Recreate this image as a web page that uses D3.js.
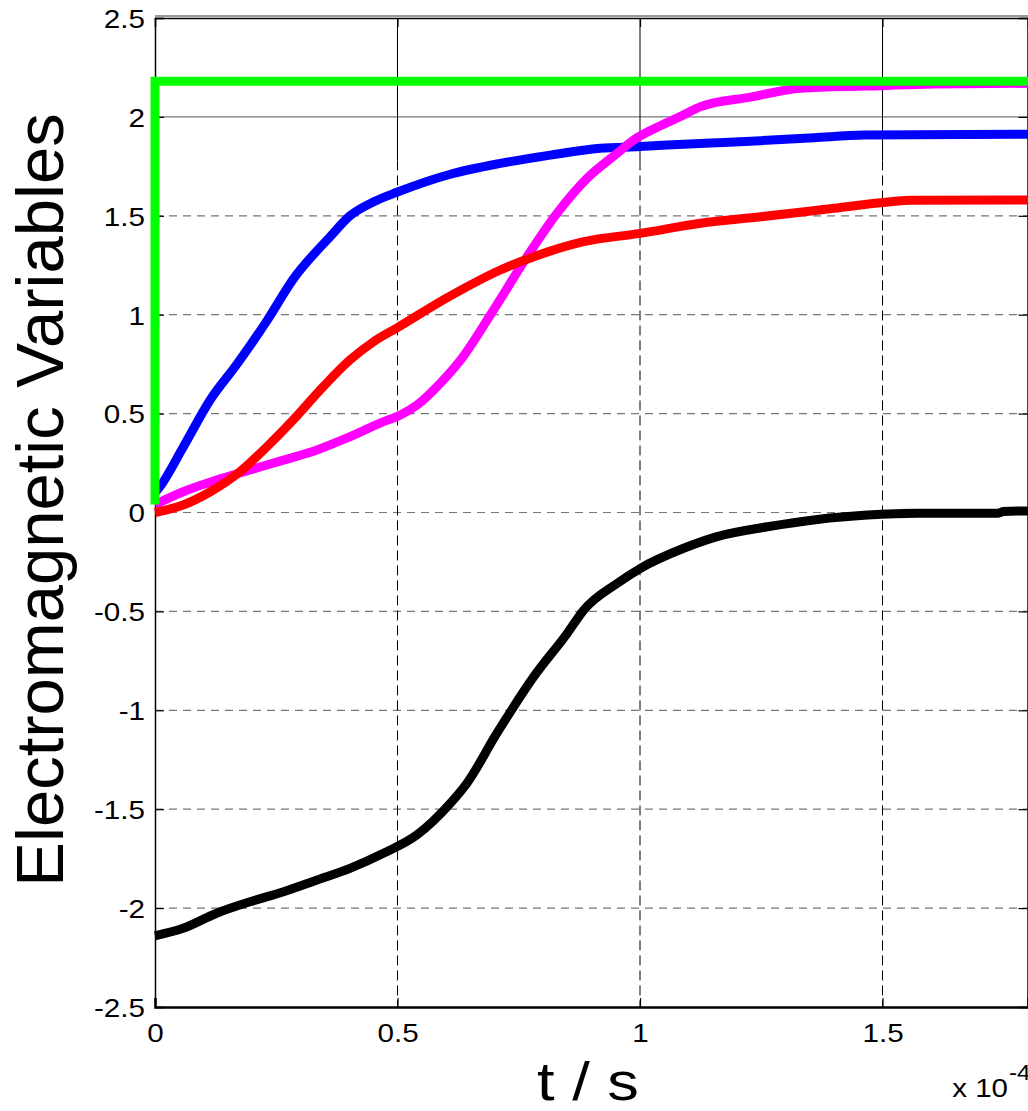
<!DOCTYPE html>
<html>
<head>
<meta charset="utf-8">
<script src="https://cdn.jsdelivr.net/npm/d3@7"></script>
<style>
  html, body { margin: 0; padding: 0; background: #fff; }
  svg { display: block; }
  text { font-family: "Liberation Sans", Arial, sans-serif; fill: #000; }
</style>
</head>
<body>
<svg id="chart" width="1028" height="1111"></svg>
<script>
// ---- data (t in units of 1e-4 s) ----
const xTicks = [0, 0.5, 1, 1.5];
const xTickLabels = ["0", "0.5", "1", "1.5"];
const yTicks = [2.5, 2, 1.5, 1, 0.5, 0, -0.5, -1, -1.5, -2, -2.5];
const yTickLabels = ["2.5", "2", "1.5", "1", "0.5", "0", "-0.5", "-1", "-1.5", "-2", "-2.5"];

const greenSeries = [[0, 0.04], [0, 2.18], [1.8, 2.18]];

const blueSeries = [[0, 0.10], [0.01, 0.13], [0.058, 0.33], [0.114, 0.57], [0.169, 0.75], [0.231, 0.97],
  [0.285, 1.18], [0.361, 1.394], [0.402, 1.50], [0.451, 1.571], [0.5, 1.62], [0.609, 1.71], [0.712, 1.765],
  [0.815, 1.807], [0.918, 1.841], [1.0, 1.85], [1.056, 1.858], [1.146, 1.868], [1.249, 1.88],
  [1.359, 1.895], [1.461, 1.908], [1.8, 1.912]];

const redSeries = [[0, 0.0], [0.058, 0.038], [0.114, 0.105], [0.175, 0.206], [0.231, 0.333], [0.285, 0.468],
  [0.347, 0.636], [0.402, 0.771], [0.451, 0.864], [0.5, 0.935], [0.609, 1.095], [0.712, 1.226],
  [0.781, 1.293], [0.884, 1.369], [1.0, 1.411], [1.125, 1.462], [1.249, 1.495], [1.40, 1.538],
  [1.517, 1.571], [1.56, 1.578], [1.8, 1.58]];

const magentaSeries = [[0, 0.04], [0.058, 0.105], [0.127, 0.164], [0.196, 0.215], [0.265, 0.265],
  [0.334, 0.316], [0.402, 0.383], [0.471, 0.459], [0.506, 0.493], [0.540, 0.543], [0.588, 0.653],
  [0.630, 0.771], [0.698, 1.024], [0.767, 1.293], [0.829, 1.513], [0.891, 1.69], [0.953, 1.816],
  [0.987, 1.883], [1.042, 1.955], [1.09, 2.01], [1.125, 2.052], [1.228, 2.10], [1.331, 2.145],
  [1.469, 2.156], [1.606, 2.166], [1.8, 2.17]];

const blackSeries = [[0, -2.14], [0.058, -2.102], [0.127, -2.026], [0.196, -1.968], [0.265, -1.917],
  [0.334, -1.858], [0.402, -1.799], [0.471, -1.723], [0.540, -1.630], [0.609, -1.47], [0.643, -1.369],
  [0.705, -1.116], [0.781, -0.830], [0.850, -0.611], [0.884, -0.493], [0.953, -0.358], [1.001, -0.282],
  [1.09, -0.181], [1.159, -0.122], [1.263, -0.072], [1.366, -0.035], [1.469, -0.013], [1.572, -0.004],
  [1.737, -0.004], [1.75, 0.005], [1.8, 0.008]];

// ---- layout ----
const pLeft = 155, pRight = 1028, pTop = 18, pBottom = 1007;
const svg = d3.select("#chart");
const x = d3.scaleLinear().domain([0, 1.8]).range([pLeft, pRight]);
const y = d3.scaleLinear().domain([-2.5, 2.5]).range([pBottom, pTop]);

// horizontal stretch of texts (the original figure is slightly widened)
const stretch = (sel, k) => sel.each(function () {
  const len = this.getComputedTextLength();
  d3.select(this).attr("textLength", len * k).attr("lengthAdjust", "spacingAndGlyphs");
});

// grid: horizontal
const gGrid = svg.append("g");
gGrid.selectAll("line.h").data(yTicks.filter(d => d > -2.5 && d < 2.5)).join("line")
  .attr("x1", pLeft).attr("x2", pRight)
  .attr("y1", d => y(d)).attr("y2", d => y(d))
  .attr("stroke", "#777").attr("stroke-width", 1.2)
  .attr("stroke-dasharray", d => d === 2 ? null : "8,6");
// grid: vertical (solid near top, dashed below)
const vTicks = xTicks.filter(d => d > 0);
gGrid.selectAll("line.vs").data(vTicks).join("line")
  .attr("x1", d => x(d)).attr("x2", d => x(d))
  .attr("y1", y(2.5)).attr("y2", y(1.78))
  .attr("stroke", "#000").attr("stroke-width", 1);
gGrid.selectAll("line.vd").data(vTicks).join("line")
  .attr("x1", d => x(d)).attr("x2", d => x(d))
  .attr("y1", y(1.78)).attr("y2", y(-2.5))
  .attr("stroke", "#000").attr("stroke-width", 1)
  .attr("stroke-dasharray", "10,5");

// axes (MATLAB style, ticks inward)
const yAxis = d3.axisLeft(y).tickValues(yTicks).tickSize(-9).tickPadding(10)
  .tickFormat((d, i) => yTickLabels[i]);
const gy = svg.append("g").attr("transform", `translate(${pLeft},0)`).call(yAxis);
const xAxis = d3.axisBottom(x).tickValues(xTicks).tickSize(-9).tickPadding(16)
  .tickFormat((d, i) => xTickLabels[i]);
const gx = svg.append("g").attr("transform", `translate(0,${pBottom})`).call(xAxis);
const yAxisR = d3.axisRight(y).tickValues(yTicks).tickSize(-9).tickFormat("");
svg.append("g").attr("transform", `translate(${pRight - 0.5},0)`).call(yAxisR);
const xAxisT = d3.axisTop(x).tickValues(xTicks).tickSize(-9).tickFormat("");
svg.append("g").attr("transform", `translate(0,${pTop})`).call(xAxisT);

svg.selectAll(".domain").attr("stroke", "#000").attr("stroke-width", 1.5);
svg.selectAll(".tick line").attr("stroke", "#000").attr("stroke-width", 1.2);
svg.selectAll("g.tick text").attr("font-size", 26).style("font-size", "26px").attr("fill", "#000")
  .style("font-family", "'Liberation Sans', Arial, sans-serif");
gy.selectAll(".tick text").attr("dy", "0.36em");
gx.selectAll(".tick text").attr("dy", "0.72em");
stretch(gy.selectAll(".tick text"), 1.14);
stretch(gx.selectAll(".tick text"), 1.14);
gx.select(".domain").attr("stroke-width", 2.5);
// top border doubled
svg.append("line").attr("x1", pLeft).attr("x2", pRight).attr("y1", pTop - 2).attr("y2", pTop - 2)
  .attr("stroke", "#333").attr("stroke-width", 1.2);

// series
const line = d3.line().x(d => x(d[0])).y(d => y(d[1])).curve(d3.curveMonotoneX);
const lineLin = d3.line().x(d => x(d[0])).y(d => y(d[1])).curve(d3.curveLinear);
const gLines = svg.append("g");
const draw = (data, color, gen) => gLines.append("path").datum(data)
  .attr("d", gen).attr("fill", "none").attr("stroke", color)
  .attr("stroke-width", 9).attr("stroke-linejoin", "miter").attr("stroke-linecap", "butt");
draw(blackSeries, "#000000", line);
draw(blueSeries, "#0000ff", line);
draw(magentaSeries, "#ff00ff", line);
draw(redSeries, "#ff0000", line);
draw(greenSeries, "#00ff00", lineLin);

// labels
svg.append("text").attr("transform", `translate(63,500) rotate(-90)`)
  .attr("text-anchor", "middle").style("font-size", "67px")
  .text("Electromagnetic Variables");
const xl = svg.append("text").attr("x", 588).attr("y", 1100).attr("text-anchor", "middle")
  .style("font-size", "54px").text("t / s");
stretch(xl, 1.17);
const e1 = svg.append("text").attr("x", 1008).attr("y", 1097).attr("text-anchor", "end")
  .style("font-size", "25px").text("x 10");
stretch(e1, 1.18);
const e2 = svg.append("text").attr("x", 1009).attr("y", 1080).attr("text-anchor", "start")
  .style("font-size", "22px").text("-4");
stretch(e2, 1.1);
</script>
</body>
</html>
